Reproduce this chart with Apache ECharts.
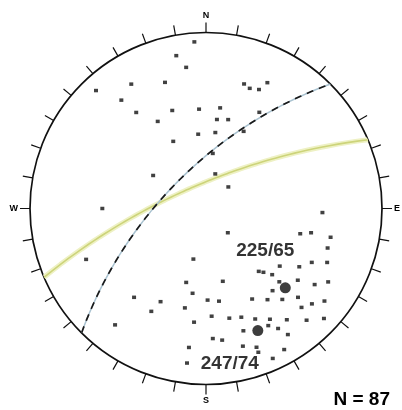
<!DOCTYPE html>
<html>
<head>
<meta charset="utf-8">
<script src="https://cdn.jsdelivr.net/npm/echarts@6/dist/echarts.min.js"></script>
<style>
  html, body { margin: 0; padding: 0; background: #ffffff; }
  #chart { width: 402px; height: 410px; }
</style>
</head>
<body>
<div id="chart"></div>
<script>
// Poles to joints, lower hemisphere: trend and plunge in degrees
const poleTrends = [
  356, 349, 352, 329, 342, 317, 322, 324, 341, 331, 356, 8,
  7, 14, 17, 20, 24, 26, 29, 354, 7, 26, 334, 7, 302, 15, 46, 270, 92, 247, 194, 138, 105, 103, 103,
  108, 117, 114,
  140, 138, 128, 122,
  167, 195, 135, 135,
  141, 128, 125, 121,
  189, 179, 172, 153, 146, 140,
  134, 136, 132, 128,
  192, 186, 177, 168, 162, 156,
  150, 144, 138, 133,
  163, 152, 149, 147, 177, 173,
  165, 160, 151, 187, 160, 156, 187,
  219, 206, 208, 218
];
const polePlunges = [
  3, 7, 12, 11, 16, 5, 14, 22, 29, 31, 31, 30,
  36, 35, 17, 18, 17, 13, 26, 44, 43, 38, 44, 55, 51, 67, 70, 29, 23, 17, 57, 69, 32, 27, 18,
  18, 22, 16,
  40, 38, 34, 26,
  44, 43, 34, 29,
  28, 23, 16, 12,
  38, 35, 34, 30, 26, 22,
  18, 14, 12, 9,
  30, 24, 27, 25, 24, 21,
  18, 14, 9, 5,
  18, 16, 13, 9, 17, 16,
  12, 10, 5, 13, 8, 4, 7,
  24, 29, 23, 10
];

// Mean planes: strike / dip (right-hand rule)
const planeStrikes = [225, 247];
const planeDips = [65, 74];

// Compass letters on the primitive circle
const compassLabels = { 0: 'N', 90: 'E', 180: 'S', 270: 'W' };

const DEG = Math.PI / 180;

// Equal-angle (Wulff) projection: radial distance of a line with the given plunge
function wulffRadius(plunge) {
  return Math.tan((90 - plunge) / 2 * DEG);
}
function lineToPolar(trend, plunge) {
  return [wulffRadius(plunge), ((trend % 360) + 360) % 360];
}
// Trace a plane as the set of lines it contains, from strike to strike + 180
function greatCircle(strike, dip) {
  const pts = [];
  for (let b = 0; b <= 180; b += 1) {
    const p = Math.atan(Math.tan(dip * DEG) * Math.sin(b * DEG)) / DEG;
    pts.push(lineToPolar(strike + b, p));
  }
  return pts;
}

const poleData = poleTrends.map((t, i) => lineToPolar(t, polePlunges[i]));

// Label placement for each mean-pole annotation
const meanLabelOffsets = [[-20, -37], [-28, 33]];
const meanPoleData = planeStrikes.map((s, i) => ({
  value: lineToPolar(s - 90, 90 - planeDips[i]),
  label: { offset: meanLabelOffsets[i] }
}));

const chart = echarts.init(document.getElementById('chart'), null, { renderer: 'canvas' });

chart.setOption({
  backgroundColor: '#ffffff',
  animation: false,
  title: {
    text: 'N = ' + poleTrends.length,
    right: 12,
    bottom: 1,
    padding: 0,
    textStyle: { fontFamily: 'Liberation Sans', fontSize: 19, fontWeight: 'bold', color: '#000000' }
  },
  polar: { center: [206, 208.5], radius: 176 },
  angleAxis: {
    type: 'value',
    min: 0,
    max: 360,
    interval: 10,
    startAngle: 90,
    clockwise: true,
    axisLine: { show: true, lineStyle: { color: '#111111', width: 1.7 } },
    axisTick: { show: true, inside: false, length: 10, lineStyle: { color: '#111111', width: 1.2 } },
    axisLabel: {
      show: true,
      margin: 12,
      formatter: (v) => compassLabels[v] || '',
      fontFamily: 'Liberation Sans',
      fontSize: 9,
      fontWeight: 'bold',
      color: '#000000'
    },
    splitLine: { show: false },
    splitArea: { show: false }
  },
  radiusAxis: {
    type: 'value',
    min: 0,
    max: 1,
    axisLine: { show: false },
    axisTick: { show: false },
    axisLabel: { show: false },
    splitLine: { show: false },
    splitArea: { show: false }
  },
  series: [
    {
      name: planeStrikes[1] + '/' + planeDips[1] + ' halo',
      type: 'line',
      coordinateSystem: 'polar',
      data: greatCircle(planeStrikes[1], planeDips[1]),
      showSymbol: false,
      silent: true,
      lineStyle: { color: '#eef1c4', width: 5 },
      z: 1
    },
    {
      name: planeStrikes[1] + '/' + planeDips[1],
      type: 'line',
      coordinateSystem: 'polar',
      data: greatCircle(planeStrikes[1], planeDips[1]),
      showSymbol: false,
      silent: true,
      lineStyle: { color: '#cdd47a', width: 1.6 },
      z: 2
    },
    {
      name: planeStrikes[0] + '/' + planeDips[0] + ' trace',
      type: 'line',
      coordinateSystem: 'polar',
      data: greatCircle(planeStrikes[0], planeDips[0]),
      showSymbol: false,
      silent: true,
      lineStyle: { color: '#a9c2d0', width: 1.5 },
      z: 3
    },
    {
      name: planeStrikes[0] + '/' + planeDips[0],
      type: 'line',
      coordinateSystem: 'polar',
      data: greatCircle(planeStrikes[0], planeDips[0]),
      showSymbol: false,
      silent: true,
      lineStyle: { color: '#1a1a1a', width: 1.7, type: [7, 6] },
      z: 4
    },
    {
      name: 'poles',
      type: 'scatter',
      coordinateSystem: 'polar',
      data: poleData,
      symbol: 'rect',
      symbolSize: [4, 3.5],
      itemStyle: { color: '#111111' },
      z: 5
    },
    {
      name: 'mean poles',
      type: 'scatter',
      coordinateSystem: 'polar',
      data: meanPoleData,
      symbol: 'circle',
      symbolSize: 11,
      itemStyle: { color: '#0d0d0d' },
      label: {
        show: true,
        position: 'inside',
        formatter: (p) => planeStrikes[p.dataIndex] + '/' + planeDips[p.dataIndex],
        fontFamily: 'Liberation Sans',
        fontSize: 19,
        fontWeight: 'bold',
        color: '#000000',
        textBorderWidth: 0
      },
      z: 6
    }
  ]
});
</script>
</body>
</html>
